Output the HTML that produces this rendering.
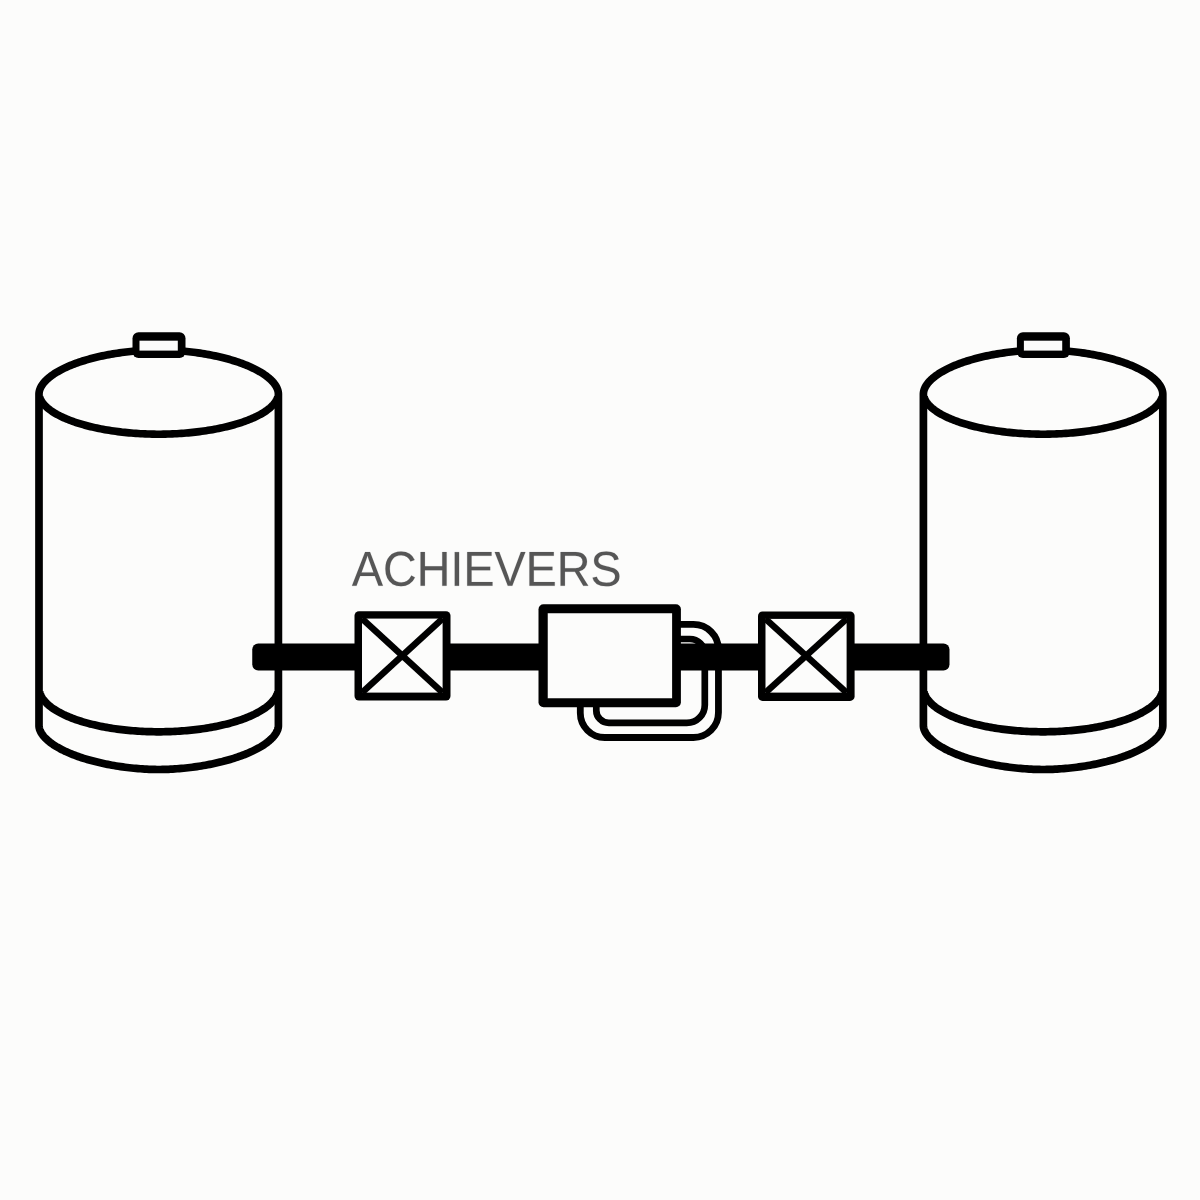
<!DOCTYPE html>
<html><head><meta charset="utf-8"><title>Diagram</title>
<style>
html,body{margin:0;padding:0;background:#fcfcfb;}
body{width:1200px;height:1200px;overflow:hidden;font-family:"Liberation Sans",sans-serif;}
svg{display:block;}
</style></head><body>
<svg width="1200" height="1200" viewBox="0 0 1200 1200">
<defs><filter id="soft" x="0" y="0" width="1200" height="1200" filterUnits="userSpaceOnUse"><feGaussianBlur stdDeviation="0.40"/></filter></defs>
<rect width="1200" height="1200" fill="#fcfcfb"/>
<g filter="url(#soft)">
<path d="M39.00,394.00 L39.02,393.30 L39.10,392.54 L39.22,391.77 L39.39,390.98 L39.61,390.18 L39.87,389.38 L40.19,388.57 L40.55,387.76 L40.96,386.94 L41.42,386.12 L41.93,385.30 L42.48,384.49 L43.08,383.67 L43.73,382.85 L44.42,382.03 L45.16,381.22 L45.94,380.41 L46.77,379.60 L47.65,378.79 L48.57,377.99 L49.54,377.20 L50.55,376.40 L51.60,375.62 L52.69,374.84 L53.83,374.06 L55.01,373.30 L56.23,372.54 L57.49,371.78 L58.79,371.04 L60.14,370.30 L61.52,369.57 L62.93,368.85 L64.39,368.14 L65.89,367.44 L67.42,366.75 L68.98,366.07 L70.58,365.40 L72.22,364.74 L73.89,364.09 L75.59,363.45 L77.32,362.82 L79.09,362.21 L80.88,361.61 L82.71,361.02 L84.56,360.45 L86.44,359.88 L88.35,359.33 L90.28,358.80 L92.24,358.28 L94.22,357.77 L96.23,357.28 L98.26,356.80 L100.31,356.33 L102.38,355.88 L104.46,355.45 L106.57,355.03 L108.69,354.63 L110.83,354.24 L112.98,353.87 L115.15,353.52 L117.33,353.18 L119.52,352.86 L121.72,352.55 L123.93,352.26 L126.14,351.99 L128.36,351.74 L130.59,351.50 L132.82,351.28 L135.04,351.08 L137.27,350.89 L139.50,350.72 L141.72,350.57 L143.93,350.44 L146.13,350.32 L148.32,350.22 L150.49,350.14 L152.63,350.08 L154.74,350.04 L156.79,350.01 L158.70,350.00 L160.61,350.01 L162.66,350.04 L164.77,350.08 L166.91,350.14 L169.08,350.22 L171.27,350.32 L173.47,350.44 L175.68,350.57 L177.90,350.72 L180.13,350.89 L182.36,351.08 L184.58,351.28 L186.81,351.50 L189.04,351.74 L191.26,351.99 L193.47,352.26 L195.68,352.55 L197.88,352.86 L200.07,353.18 L202.25,353.52 L204.42,353.87 L206.57,354.24 L208.71,354.63 L210.83,355.03 L212.94,355.45 L215.02,355.88 L217.09,356.33 L219.14,356.80 L221.17,357.28 L223.18,357.77 L225.16,358.28 L227.12,358.80 L229.05,359.33 L230.96,359.88 L232.84,360.45 L234.69,361.02 L236.52,361.61 L238.31,362.21 L240.08,362.82 L241.81,363.45 L243.51,364.09 L245.18,364.74 L246.82,365.40 L248.42,366.07 L249.98,366.75 L251.51,367.44 L253.01,368.14 L254.47,368.85 L255.88,369.57 L257.26,370.30 L258.61,371.04 L259.91,371.78 L261.17,372.54 L262.39,373.30 L263.57,374.06 L264.71,374.84 L265.80,375.62 L266.85,376.40 L267.86,377.20 L268.83,377.99 L269.75,378.79 L270.63,379.60 L271.46,380.41 L272.24,381.22 L272.98,382.03 L273.67,382.85 L274.32,383.67 L274.92,384.49 L275.47,385.30 L275.98,386.12 L276.44,386.94 L276.85,387.76 L277.21,388.57 L277.53,389.38 L277.79,390.18 L278.01,390.98 L278.18,391.77 L278.30,392.54 L278.38,393.30 L278.40,394.00 L278.40,725.76 L278.38,726.39 L278.30,727.09 L278.18,727.82 L278.00,728.56 L277.78,729.33 L277.50,730.10 L277.18,730.88 L276.81,731.67 L276.39,732.46 L275.92,733.26 L275.40,734.06 L274.83,734.86 L274.22,735.66 L273.56,736.47 L272.85,737.27 L272.09,738.08 L271.29,738.88 L270.43,739.68 L269.54,740.48 L268.60,741.27 L267.61,742.07 L266.58,742.85 L265.50,743.64 L264.38,744.42 L263.22,745.19 L262.01,745.96 L260.77,746.72 L259.48,747.47 L258.15,748.22 L256.78,748.96 L255.37,749.69 L253.92,750.41 L252.44,751.13 L250.92,751.83 L249.36,752.53 L247.76,753.22 L246.13,753.89 L244.47,754.56 L242.77,755.21 L241.05,755.86 L239.28,756.49 L237.49,757.11 L235.67,757.72 L233.82,758.31 L231.94,758.90 L230.04,759.47 L228.11,760.02 L226.15,760.56 L224.17,761.09 L222.17,761.61 L220.15,762.11 L218.10,762.59 L216.04,763.07 L213.96,763.52 L211.86,763.96 L209.74,764.39 L207.61,764.80 L205.47,765.19 L203.31,765.57 L201.15,765.93 L198.97,766.27 L196.79,766.60 L194.59,766.91 L192.40,767.20 L190.20,767.48 L188.00,767.74 L185.80,767.98 L183.60,768.21 L181.40,768.41 L179.21,768.60 L177.03,768.78 L174.86,768.93 L172.71,769.06 L170.57,769.18 L168.46,769.28 L166.37,769.36 L164.33,769.43 L162.33,769.47 L160.42,769.50 L158.70,769.51 L156.98,769.50 L155.07,769.47 L153.07,769.43 L151.03,769.36 L148.94,769.28 L146.83,769.18 L144.69,769.06 L142.54,768.93 L140.37,768.78 L138.19,768.60 L136.00,768.41 L133.80,768.21 L131.60,767.98 L129.40,767.74 L127.20,767.48 L125.00,767.20 L122.81,766.91 L120.61,766.60 L118.43,766.27 L116.25,765.93 L114.09,765.57 L111.93,765.19 L109.79,764.80 L107.66,764.39 L105.54,763.96 L103.44,763.52 L101.36,763.07 L99.30,762.59 L97.25,762.11 L95.23,761.61 L93.23,761.09 L91.25,760.56 L89.29,760.02 L87.36,759.47 L85.46,758.90 L83.58,758.31 L81.73,757.72 L79.91,757.11 L78.12,756.49 L76.35,755.86 L74.63,755.21 L72.93,754.56 L71.27,753.89 L69.64,753.22 L68.04,752.53 L66.48,751.83 L64.96,751.13 L63.48,750.41 L62.03,749.69 L60.62,748.96 L59.25,748.22 L57.92,747.47 L56.63,746.72 L55.39,745.96 L54.18,745.19 L53.02,744.42 L51.90,743.64 L50.82,742.85 L49.79,742.07 L48.80,741.27 L47.86,740.48 L46.97,739.68 L46.11,738.88 L45.31,738.08 L44.55,737.27 L43.84,736.47 L43.18,735.66 L42.57,734.86 L42.00,734.06 L41.48,733.26 L41.01,732.46 L40.59,731.67 L40.22,730.88 L39.90,730.10 L39.62,729.33 L39.40,728.56 L39.22,727.82 L39.10,727.09 L39.02,726.39 L39.00,725.76 Z" fill="none" stroke="#050505" stroke-width="7.70" stroke-linejoin="round"/>
<path d="M39.58,692.11 L39.83,692.97 L40.13,693.83 L40.47,694.68 L40.86,695.54 L41.30,696.38 L41.78,697.23 L42.31,698.07 L42.88,698.91 L43.49,699.74 L44.15,700.57 L44.86,701.40 L45.61,702.22 L46.40,703.03 L47.23,703.84 L48.11,704.64 L49.03,705.43 L50.00,706.22 L51.00,707.00 L52.05,707.78 L53.13,708.54 L54.26,709.30 L55.43,710.05 L56.64,710.79 L57.89,711.52 L59.17,712.25 L60.50,712.96 L61.86,713.66 L63.26,714.36 L64.70,715.04 L66.17,715.71 L67.68,716.38 L69.22,717.03 L70.80,717.67 L72.41,718.30 L74.06,718.91 L75.74,719.52 L77.45,720.11 L79.19,720.69 L80.96,721.26 L82.76,721.81 L84.59,722.35 L86.45,722.88 L88.34,723.40 L90.26,723.90 L92.20,724.38 L94.17,724.86 L96.16,725.32 L98.17,725.76 L100.21,726.19 L102.27,726.60 L104.36,727.00 L106.46,727.39 L108.59,727.76 L110.73,728.11 L112.89,728.45 L115.07,728.77 L117.27,729.08 L119.48,729.37 L121.71,729.65 L123.95,729.91 L126.21,730.15 L128.48,730.37 L130.76,730.58 L133.05,730.78 L135.35,730.95 L137.66,731.11 L139.97,731.26 L142.30,731.39 L144.63,731.50 L146.97,731.59 L149.31,731.66 L151.65,731.72 L154.00,731.77 L156.35,731.79 L158.70,731.80 L161.05,731.79 L163.40,731.77 L165.75,731.72 L168.09,731.66 L170.43,731.59 L172.77,731.50 L175.10,731.39 L177.43,731.26 L179.74,731.11 L182.05,730.95 L184.35,730.78 L186.64,730.58 L188.92,730.37 L191.19,730.15 L193.45,729.91 L195.69,729.65 L197.92,729.37 L200.13,729.08 L202.33,728.77 L204.51,728.45 L206.67,728.11 L208.81,727.76 L210.94,727.39 L213.04,727.00 L215.13,726.60 L217.19,726.19 L219.23,725.76 L221.24,725.32 L223.23,724.86 L225.20,724.38 L227.14,723.90 L229.06,723.40 L230.95,722.88 L232.81,722.35 L234.64,721.81 L236.44,721.26 L238.21,720.69 L239.95,720.11 L241.66,719.52 L243.34,718.91 L244.99,718.30 L246.60,717.67 L248.18,717.03 L249.72,716.38 L251.23,715.71 L252.70,715.04 L254.14,714.36 L255.54,713.66 L256.90,712.96 L258.23,712.25 L259.51,711.52 L260.76,710.79 L261.97,710.05 L263.14,709.30 L264.27,708.54 L265.35,707.78 L266.40,707.00 L267.40,706.22 L268.37,705.43 L269.29,704.64 L270.17,703.84 L271.00,703.03 L271.79,702.22 L272.54,701.40 L273.25,700.57 L273.91,699.74 L274.52,698.91 L275.09,698.07 L275.62,697.23 L276.10,696.38 L276.54,695.54 L276.93,694.68 L277.27,693.83 L277.57,692.97 L277.82,692.11" fill="none" stroke="#050505" stroke-width="7.70"/>
<path d="M39.59,396.90 L39.84,397.69 L40.15,398.48 L40.50,399.27 L40.89,400.05 L41.33,400.84 L41.82,401.62 L42.36,402.41 L42.94,403.19 L43.56,403.96 L44.23,404.74 L44.95,405.51 L45.70,406.27 L46.51,407.03 L47.35,407.79 L48.24,408.54 L49.18,409.28 L50.15,410.02 L51.17,410.75 L52.23,411.48 L53.34,412.20 L54.48,412.91 L55.66,413.62 L56.89,414.32 L58.15,415.00 L59.45,415.69 L60.79,416.36 L62.17,417.02 L63.59,417.68 L65.04,418.32 L66.53,418.96 L68.06,419.58 L69.62,420.20 L71.21,420.80 L72.84,421.40 L74.50,421.98 L76.20,422.55 L77.93,423.11 L79.68,423.66 L81.47,424.20 L83.29,424.72 L85.13,425.24 L87.01,425.74 L88.91,426.22 L90.84,426.70 L92.79,427.16 L94.77,427.61 L96.77,428.04 L98.80,428.46 L100.85,428.87 L102.92,429.27 L105.01,429.65 L107.12,430.01 L109.25,430.36 L111.39,430.70 L113.56,431.02 L115.74,431.32 L117.93,431.62 L120.14,431.89 L122.37,432.15 L124.60,432.40 L126.85,432.63 L129.10,432.85 L131.37,433.04 L133.64,433.23 L135.92,433.40 L138.21,433.55 L140.50,433.69 L142.79,433.81 L145.08,433.91 L147.38,434.00 L149.67,434.07 L151.95,434.13 L154.23,434.17 L156.49,434.19 L158.70,434.20 L160.91,434.19 L163.17,434.17 L165.45,434.13 L167.73,434.07 L170.02,434.00 L172.32,433.91 L174.61,433.81 L176.90,433.69 L179.19,433.55 L181.48,433.40 L183.76,433.23 L186.03,433.04 L188.30,432.85 L190.55,432.63 L192.80,432.40 L195.03,432.15 L197.26,431.89 L199.47,431.62 L201.66,431.32 L203.84,431.02 L206.01,430.70 L208.15,430.36 L210.28,430.01 L212.39,429.65 L214.48,429.27 L216.55,428.87 L218.60,428.46 L220.63,428.04 L222.63,427.61 L224.61,427.16 L226.56,426.70 L228.49,426.22 L230.39,425.74 L232.27,425.24 L234.11,424.72 L235.93,424.20 L237.72,423.66 L239.47,423.11 L241.20,422.55 L242.90,421.98 L244.56,421.40 L246.19,420.80 L247.78,420.20 L249.34,419.58 L250.87,418.96 L252.36,418.32 L253.81,417.68 L255.23,417.02 L256.61,416.36 L257.95,415.69 L259.25,415.00 L260.51,414.32 L261.74,413.62 L262.92,412.91 L264.06,412.20 L265.17,411.48 L266.23,410.75 L267.25,410.02 L268.22,409.28 L269.16,408.54 L270.05,407.79 L270.89,407.03 L271.70,406.27 L272.45,405.51 L273.17,404.74 L273.84,403.96 L274.46,403.19 L275.04,402.41 L275.58,401.62 L276.07,400.84 L276.51,400.05 L276.90,399.27 L277.25,398.48 L277.56,397.69 L277.81,396.90" fill="none" stroke="#050505" stroke-width="7.60"/>
<rect x="132.50" y="332.30" width="53.00" height="25.70" rx="6.00" fill="#050505"/>
<rect x="139.50" y="340.70" width="38.30" height="9.90" fill="#fcfcfb"/>
<path d="M923.40,394.00 L923.42,393.30 L923.50,392.54 L923.62,391.77 L923.79,390.98 L924.01,390.18 L924.27,389.38 L924.59,388.57 L924.95,387.76 L925.36,386.94 L925.82,386.12 L926.33,385.30 L926.88,384.49 L927.48,383.67 L928.13,382.85 L928.82,382.03 L929.56,381.22 L930.34,380.41 L931.17,379.60 L932.05,378.79 L932.97,377.99 L933.94,377.20 L934.95,376.40 L936.00,375.62 L937.09,374.84 L938.23,374.06 L939.41,373.30 L940.63,372.54 L941.89,371.78 L943.19,371.04 L944.54,370.30 L945.92,369.57 L947.33,368.85 L948.79,368.14 L950.29,367.44 L951.82,366.75 L953.38,366.07 L954.98,365.40 L956.62,364.74 L958.29,364.09 L959.99,363.45 L961.72,362.82 L963.49,362.21 L965.28,361.61 L967.11,361.02 L968.96,360.45 L970.84,359.88 L972.75,359.33 L974.68,358.80 L976.64,358.28 L978.62,357.77 L980.63,357.28 L982.66,356.80 L984.71,356.33 L986.78,355.88 L988.86,355.45 L990.97,355.03 L993.09,354.63 L995.23,354.24 L997.38,353.87 L999.55,353.52 L1001.73,353.18 L1003.92,352.86 L1006.12,352.55 L1008.33,352.26 L1010.54,351.99 L1012.76,351.74 L1014.99,351.50 L1017.22,351.28 L1019.44,351.08 L1021.67,350.89 L1023.90,350.72 L1026.12,350.57 L1028.33,350.44 L1030.53,350.32 L1032.72,350.22 L1034.89,350.14 L1037.03,350.08 L1039.14,350.04 L1041.19,350.01 L1043.10,350.00 L1045.01,350.01 L1047.06,350.04 L1049.17,350.08 L1051.31,350.14 L1053.48,350.22 L1055.67,350.32 L1057.87,350.44 L1060.08,350.57 L1062.30,350.72 L1064.53,350.89 L1066.76,351.08 L1068.98,351.28 L1071.21,351.50 L1073.44,351.74 L1075.66,351.99 L1077.87,352.26 L1080.08,352.55 L1082.28,352.86 L1084.47,353.18 L1086.65,353.52 L1088.82,353.87 L1090.97,354.24 L1093.11,354.63 L1095.23,355.03 L1097.34,355.45 L1099.42,355.88 L1101.49,356.33 L1103.54,356.80 L1105.57,357.28 L1107.58,357.77 L1109.56,358.28 L1111.52,358.80 L1113.45,359.33 L1115.36,359.88 L1117.24,360.45 L1119.09,361.02 L1120.92,361.61 L1122.71,362.21 L1124.48,362.82 L1126.21,363.45 L1127.91,364.09 L1129.58,364.74 L1131.22,365.40 L1132.82,366.07 L1134.38,366.75 L1135.91,367.44 L1137.41,368.14 L1138.87,368.85 L1140.28,369.57 L1141.66,370.30 L1143.01,371.04 L1144.31,371.78 L1145.57,372.54 L1146.79,373.30 L1147.97,374.06 L1149.11,374.84 L1150.20,375.62 L1151.25,376.40 L1152.26,377.20 L1153.23,377.99 L1154.15,378.79 L1155.03,379.60 L1155.86,380.41 L1156.64,381.22 L1157.38,382.03 L1158.07,382.85 L1158.72,383.67 L1159.32,384.49 L1159.87,385.30 L1160.38,386.12 L1160.84,386.94 L1161.25,387.76 L1161.61,388.57 L1161.93,389.38 L1162.19,390.18 L1162.41,390.98 L1162.58,391.77 L1162.70,392.54 L1162.78,393.30 L1162.80,394.00 L1162.80,725.76 L1162.78,726.39 L1162.70,727.09 L1162.58,727.82 L1162.40,728.56 L1162.18,729.33 L1161.90,730.10 L1161.58,730.88 L1161.21,731.67 L1160.79,732.46 L1160.32,733.26 L1159.80,734.06 L1159.23,734.86 L1158.62,735.66 L1157.96,736.47 L1157.25,737.27 L1156.49,738.08 L1155.69,738.88 L1154.83,739.68 L1153.94,740.48 L1153.00,741.27 L1152.01,742.07 L1150.98,742.85 L1149.90,743.64 L1148.78,744.42 L1147.62,745.19 L1146.41,745.96 L1145.17,746.72 L1143.88,747.47 L1142.55,748.22 L1141.18,748.96 L1139.77,749.69 L1138.32,750.41 L1136.84,751.13 L1135.32,751.83 L1133.76,752.53 L1132.16,753.22 L1130.53,753.89 L1128.87,754.56 L1127.17,755.21 L1125.45,755.86 L1123.68,756.49 L1121.89,757.11 L1120.07,757.72 L1118.22,758.31 L1116.34,758.90 L1114.44,759.47 L1112.51,760.02 L1110.55,760.56 L1108.57,761.09 L1106.57,761.61 L1104.55,762.11 L1102.50,762.59 L1100.44,763.07 L1098.36,763.52 L1096.26,763.96 L1094.14,764.39 L1092.01,764.80 L1089.87,765.19 L1087.71,765.57 L1085.55,765.93 L1083.37,766.27 L1081.19,766.60 L1078.99,766.91 L1076.80,767.20 L1074.60,767.48 L1072.40,767.74 L1070.20,767.98 L1068.00,768.21 L1065.80,768.41 L1063.61,768.60 L1061.43,768.78 L1059.26,768.93 L1057.11,769.06 L1054.97,769.18 L1052.86,769.28 L1050.77,769.36 L1048.73,769.43 L1046.73,769.47 L1044.82,769.50 L1043.10,769.51 L1041.38,769.50 L1039.47,769.47 L1037.47,769.43 L1035.43,769.36 L1033.34,769.28 L1031.23,769.18 L1029.09,769.06 L1026.94,768.93 L1024.77,768.78 L1022.59,768.60 L1020.40,768.41 L1018.20,768.21 L1016.00,767.98 L1013.80,767.74 L1011.60,767.48 L1009.40,767.20 L1007.21,766.91 L1005.01,766.60 L1002.83,766.27 L1000.65,765.93 L998.49,765.57 L996.33,765.19 L994.19,764.80 L992.06,764.39 L989.94,763.96 L987.84,763.52 L985.76,763.07 L983.70,762.59 L981.65,762.11 L979.63,761.61 L977.63,761.09 L975.65,760.56 L973.69,760.02 L971.76,759.47 L969.86,758.90 L967.98,758.31 L966.13,757.72 L964.31,757.11 L962.52,756.49 L960.75,755.86 L959.03,755.21 L957.33,754.56 L955.67,753.89 L954.04,753.22 L952.44,752.53 L950.88,751.83 L949.36,751.13 L947.88,750.41 L946.43,749.69 L945.02,748.96 L943.65,748.22 L942.32,747.47 L941.03,746.72 L939.79,745.96 L938.58,745.19 L937.42,744.42 L936.30,743.64 L935.22,742.85 L934.19,742.07 L933.20,741.27 L932.26,740.48 L931.37,739.68 L930.51,738.88 L929.71,738.08 L928.95,737.27 L928.24,736.47 L927.58,735.66 L926.97,734.86 L926.40,734.06 L925.88,733.26 L925.41,732.46 L924.99,731.67 L924.62,730.88 L924.30,730.10 L924.02,729.33 L923.80,728.56 L923.62,727.82 L923.50,727.09 L923.42,726.39 L923.40,725.76 Z" fill="none" stroke="#050505" stroke-width="7.70" stroke-linejoin="round"/>
<path d="M923.98,692.11 L924.23,692.97 L924.53,693.83 L924.87,694.68 L925.26,695.54 L925.70,696.38 L926.18,697.23 L926.71,698.07 L927.28,698.91 L927.89,699.74 L928.55,700.57 L929.26,701.40 L930.01,702.22 L930.80,703.03 L931.63,703.84 L932.51,704.64 L933.43,705.43 L934.40,706.22 L935.40,707.00 L936.45,707.78 L937.53,708.54 L938.66,709.30 L939.83,710.05 L941.04,710.79 L942.29,711.52 L943.57,712.25 L944.90,712.96 L946.26,713.66 L947.66,714.36 L949.10,715.04 L950.57,715.71 L952.08,716.38 L953.62,717.03 L955.20,717.67 L956.81,718.30 L958.46,718.91 L960.14,719.52 L961.85,720.11 L963.59,720.69 L965.36,721.26 L967.16,721.81 L968.99,722.35 L970.85,722.88 L972.74,723.40 L974.66,723.90 L976.60,724.38 L978.57,724.86 L980.56,725.32 L982.57,725.76 L984.61,726.19 L986.67,726.60 L988.76,727.00 L990.86,727.39 L992.99,727.76 L995.13,728.11 L997.29,728.45 L999.47,728.77 L1001.67,729.08 L1003.88,729.37 L1006.11,729.65 L1008.35,729.91 L1010.61,730.15 L1012.88,730.37 L1015.16,730.58 L1017.45,730.78 L1019.75,730.95 L1022.06,731.11 L1024.37,731.26 L1026.70,731.39 L1029.03,731.50 L1031.37,731.59 L1033.71,731.66 L1036.05,731.72 L1038.40,731.77 L1040.75,731.79 L1043.10,731.80 L1045.45,731.79 L1047.80,731.77 L1050.15,731.72 L1052.49,731.66 L1054.83,731.59 L1057.17,731.50 L1059.50,731.39 L1061.83,731.26 L1064.14,731.11 L1066.45,730.95 L1068.75,730.78 L1071.04,730.58 L1073.32,730.37 L1075.59,730.15 L1077.85,729.91 L1080.09,729.65 L1082.32,729.37 L1084.53,729.08 L1086.73,728.77 L1088.91,728.45 L1091.07,728.11 L1093.21,727.76 L1095.34,727.39 L1097.44,727.00 L1099.53,726.60 L1101.59,726.19 L1103.63,725.76 L1105.64,725.32 L1107.63,724.86 L1109.60,724.38 L1111.54,723.90 L1113.46,723.40 L1115.35,722.88 L1117.21,722.35 L1119.04,721.81 L1120.84,721.26 L1122.61,720.69 L1124.35,720.11 L1126.06,719.52 L1127.74,718.91 L1129.39,718.30 L1131.00,717.67 L1132.58,717.03 L1134.12,716.38 L1135.63,715.71 L1137.10,715.04 L1138.54,714.36 L1139.94,713.66 L1141.30,712.96 L1142.63,712.25 L1143.91,711.52 L1145.16,710.79 L1146.37,710.05 L1147.54,709.30 L1148.67,708.54 L1149.75,707.78 L1150.80,707.00 L1151.80,706.22 L1152.77,705.43 L1153.69,704.64 L1154.57,703.84 L1155.40,703.03 L1156.19,702.22 L1156.94,701.40 L1157.65,700.57 L1158.31,699.74 L1158.92,698.91 L1159.49,698.07 L1160.02,697.23 L1160.50,696.38 L1160.94,695.54 L1161.33,694.68 L1161.67,693.83 L1161.97,692.97 L1162.22,692.11" fill="none" stroke="#050505" stroke-width="7.70"/>
<path d="M923.99,396.90 L924.24,397.69 L924.55,398.48 L924.90,399.27 L925.29,400.05 L925.73,400.84 L926.22,401.62 L926.76,402.41 L927.34,403.19 L927.96,403.96 L928.63,404.74 L929.35,405.51 L930.10,406.27 L930.91,407.03 L931.75,407.79 L932.64,408.54 L933.58,409.28 L934.55,410.02 L935.57,410.75 L936.63,411.48 L937.74,412.20 L938.88,412.91 L940.06,413.62 L941.29,414.32 L942.55,415.00 L943.85,415.69 L945.19,416.36 L946.57,417.02 L947.99,417.68 L949.44,418.32 L950.93,418.96 L952.46,419.58 L954.02,420.20 L955.61,420.80 L957.24,421.40 L958.90,421.98 L960.60,422.55 L962.33,423.11 L964.08,423.66 L965.87,424.20 L967.69,424.72 L969.53,425.24 L971.41,425.74 L973.31,426.22 L975.24,426.70 L977.19,427.16 L979.17,427.61 L981.17,428.04 L983.20,428.46 L985.25,428.87 L987.32,429.27 L989.41,429.65 L991.52,430.01 L993.65,430.36 L995.79,430.70 L997.96,431.02 L1000.14,431.32 L1002.33,431.62 L1004.54,431.89 L1006.77,432.15 L1009.00,432.40 L1011.25,432.63 L1013.50,432.85 L1015.77,433.04 L1018.04,433.23 L1020.32,433.40 L1022.61,433.55 L1024.90,433.69 L1027.19,433.81 L1029.48,433.91 L1031.78,434.00 L1034.07,434.07 L1036.35,434.13 L1038.63,434.17 L1040.89,434.19 L1043.10,434.20 L1045.31,434.19 L1047.57,434.17 L1049.85,434.13 L1052.13,434.07 L1054.42,434.00 L1056.72,433.91 L1059.01,433.81 L1061.30,433.69 L1063.59,433.55 L1065.88,433.40 L1068.16,433.23 L1070.43,433.04 L1072.70,432.85 L1074.95,432.63 L1077.20,432.40 L1079.43,432.15 L1081.66,431.89 L1083.87,431.62 L1086.06,431.32 L1088.24,431.02 L1090.41,430.70 L1092.55,430.36 L1094.68,430.01 L1096.79,429.65 L1098.88,429.27 L1100.95,428.87 L1103.00,428.46 L1105.03,428.04 L1107.03,427.61 L1109.01,427.16 L1110.96,426.70 L1112.89,426.22 L1114.79,425.74 L1116.67,425.24 L1118.51,424.72 L1120.33,424.20 L1122.12,423.66 L1123.87,423.11 L1125.60,422.55 L1127.30,421.98 L1128.96,421.40 L1130.59,420.80 L1132.18,420.20 L1133.74,419.58 L1135.27,418.96 L1136.76,418.32 L1138.21,417.68 L1139.63,417.02 L1141.01,416.36 L1142.35,415.69 L1143.65,415.00 L1144.91,414.32 L1146.14,413.62 L1147.32,412.91 L1148.46,412.20 L1149.57,411.48 L1150.63,410.75 L1151.65,410.02 L1152.62,409.28 L1153.56,408.54 L1154.45,407.79 L1155.29,407.03 L1156.10,406.27 L1156.85,405.51 L1157.57,404.74 L1158.24,403.96 L1158.86,403.19 L1159.44,402.41 L1159.98,401.62 L1160.47,400.84 L1160.91,400.05 L1161.30,399.27 L1161.65,398.48 L1161.96,397.69 L1162.21,396.90" fill="none" stroke="#050505" stroke-width="7.60"/>
<rect x="1016.90" y="332.30" width="53.00" height="25.70" rx="6.00" fill="#050505"/>
<rect x="1023.90" y="340.70" width="38.30" height="9.90" fill="#fcfcfb"/>
<path d="M676,624.40 H693.45 A25.00,25.00 0 0 1 718.45,649.40 V712.50 A25.00,25.00 0 0 1 693.45,737.50 H604.80 A24.50,24.50 0 0 1 580.30,713.00 V700" fill="none" stroke="#050505" stroke-width="6.80"/>
<path d="M676,639.00 H689.80 A15.00,15.00 0 0 1 704.80,654.00 V704.90 A18.00,18.00 0 0 1 686.80,722.90 H608.80 A12.50,12.50 0 0 1 596.30,710.40 V700" fill="none" stroke="#050505" stroke-width="6.70"/>
<rect x="252.25" y="643.60" width="697.25" height="26.90" rx="6" fill="#050505"/>
<rect x="354.50" y="611.20" width="96.00" height="89.40" rx="4.50" fill="#050505"/>
<rect x="362.00" y="618.60" width="80.60" height="74.00" fill="#fcfcfb"/>
<path d="M362.00,618.60 L442.60,692.60 M442.60,618.60 L362.00,692.60" stroke="#050505" stroke-width="6.60" fill="none"/>
<rect x="758.00" y="611.40" width="96.60" height="89.50" rx="4.50" fill="#050505"/>
<rect x="765.50" y="618.90" width="81.10" height="73.70" fill="#fcfcfb"/>
<path d="M765.50,618.90 L846.60,692.60 M846.60,618.90 L765.50,692.60" stroke="#050505" stroke-width="6.60" fill="none"/>
<rect x="538.5" y="604.25" width="142.40" height="103.00" rx="5" fill="#050505"/>
<rect x="547.75" y="613.25" width="124.35" height="85.00" fill="#fcfcfb"/>
<g transform="translate(351.909,585.800) scale(0.022781,-0.023918)" fill="#565656" stroke="#565656" stroke-width="6.6"><path transform="translate(0,0)" d="M1167 0 1006 412H364L202 0H4L579 1409H796L1362 0ZM685 1265 676 1237Q651 1154 602 1024L422 561H949L768 1026Q740 1095 712 1182Z"/><path transform="translate(1366,0)" d="M792 1274Q558 1274 428.0 1123.5Q298 973 298 711Q298 452 433.5 294.5Q569 137 800 137Q1096 137 1245 430L1401 352Q1314 170 1156.5 75.0Q999 -20 791 -20Q578 -20 422.5 68.5Q267 157 185.5 321.5Q104 486 104 711Q104 1048 286.0 1239.0Q468 1430 790 1430Q1015 1430 1166.0 1342.0Q1317 1254 1388 1081L1207 1021Q1158 1144 1049.5 1209.0Q941 1274 792 1274Z"/><path transform="translate(2845,0)" d="M1121 0V653H359V0H168V1409H359V813H1121V1409H1312V0Z"/><path transform="translate(4324,0)" d="M189 0V1409H380V0Z"/><path transform="translate(4893,0)" d="M168 0V1409H1237V1253H359V801H1177V647H359V156H1278V0Z"/><path transform="translate(6259,0)" d="M782 0H584L9 1409H210L600 417L684 168L768 417L1156 1409H1357Z"/><path transform="translate(7625,0)" d="M168 0V1409H1237V1253H359V801H1177V647H359V156H1278V0Z"/><path transform="translate(8991,0)" d="M1164 0 798 585H359V0H168V1409H831Q1069 1409 1198.5 1302.5Q1328 1196 1328 1006Q1328 849 1236.5 742.0Q1145 635 984 607L1384 0ZM1136 1004Q1136 1127 1052.5 1191.5Q969 1256 812 1256H359V736H820Q971 736 1053.5 806.5Q1136 877 1136 1004Z"/><path transform="translate(10470,0)" d="M1272 389Q1272 194 1119.5 87.0Q967 -20 690 -20Q175 -20 93 338L278 375Q310 248 414.0 188.5Q518 129 697 129Q882 129 982.5 192.5Q1083 256 1083 379Q1083 448 1051.5 491.0Q1020 534 963.0 562.0Q906 590 827.0 609.0Q748 628 652 650Q485 687 398.5 724.0Q312 761 262.0 806.5Q212 852 185.5 913.0Q159 974 159 1053Q159 1234 297.5 1332.0Q436 1430 694 1430Q934 1430 1061.0 1356.5Q1188 1283 1239 1106L1051 1073Q1020 1185 933.0 1235.5Q846 1286 692 1286Q523 1286 434.0 1230.0Q345 1174 345 1063Q345 998 379.5 955.5Q414 913 479.0 883.5Q544 854 738 811Q803 796 867.5 780.5Q932 765 991.0 743.5Q1050 722 1101.5 693.0Q1153 664 1191.0 622.0Q1229 580 1250.5 523.0Q1272 466 1272 389Z"/></g>
</g>
</svg>
</body></html>
